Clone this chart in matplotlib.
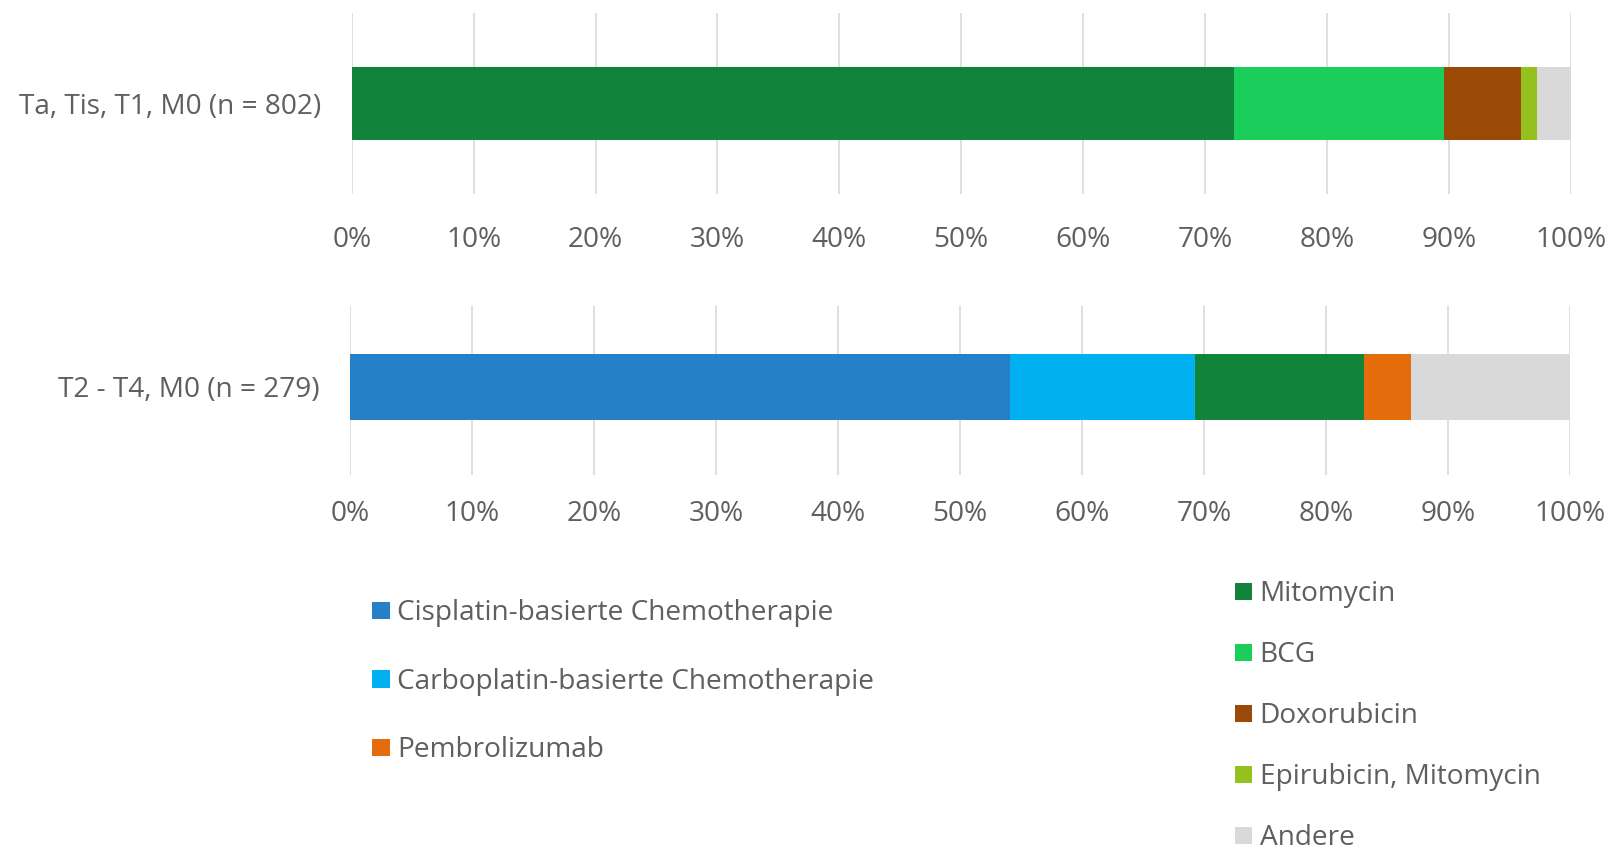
import matplotlib
matplotlib.use("Agg")
import matplotlib.pyplot as plt
from matplotlib.patches import Rectangle

# data (percent of patients)
top_label = "Ta, Tis, T1, M0 (n = 802)"
top_names = ["Mitomycin", "BCG", "Doxorubicin", "Epirubicin, Mitomycin", "Andere"]
top_values = [72.4, 17.2, 6.3, 1.3, 2.8]

bottom_label = "T2 - T4, M0 (n = 279)"
bottom_names = ["Cisplatin-basierte Chemotherapie", "Carboplatin-basierte Chemotherapie",
                "Mitomycin", "Pembrolizumab", "Andere"]
bottom_values = [54.1, 15.2, 13.8, 3.9, 13.0]

x_ticks = [0, 10, 20, 30, 40, 50, 60, 70, 80, 90, 100]

colors = {
    "Mitomycin": "#12833B",
    "BCG": "#1BCE5C",
    "Doxorubicin": "#9A4907",
    "Epirubicin, Mitomycin": "#95C11F",
    "Andere": "#D9D9D9",
    "Cisplatin-basierte Chemotherapie": "#2680C8",
    "Carboplatin-basierte Chemotherapie": "#00B0F0",
    "Pembrolizumab": "#E46C0A",
}

legend_left = ["Cisplatin-basierte Chemotherapie", "Carboplatin-basierte Chemotherapie", "Pembrolizumab"]
legend_right = ["Mitomycin", "BCG", "Doxorubicin", "Epirubicin, Mitomycin", "Andere"]

plt.rcParams["font.family"] = ["Open Sans", "DejaVu Sans"]
text_col = "#5f5f5f"
fs = 20.2

W, H = 1619, 849
fig = plt.figure(figsize=(W / 100, H / 100), dpi=100)


def px_axes(left, top, right, bottom):
    return fig.add_axes([left / W, 1 - bottom / H, (right - left) / W, (bottom - top) / H])


def stacked(ax, label, names, values, bar_h, pad_x):
    left = 0
    for name, val in zip(names, values):
        ax.barh(0, val, left=left, height=bar_h, color=colors[name], zorder=2)
        left += val
    ax.set_xlim(0, 100)
    ax.set_ylim(-0.5, 0.5)
    ax.set_yticks([0])
    ax.set_yticklabels([label])
    ax.set_xticks(x_ticks)
    ax.set_xticklabels([f"{t}%" for t in x_ticks])
    ax.grid(axis="x", color="#D9D9D9", linewidth=1.2, zorder=0)
    for s in ax.spines.values():
        s.set_visible(False)
    ax.tick_params(axis="both", length=0, labelsize=fs, labelcolor=text_col)
    ax.tick_params(axis="y", pad=22)
    ax.tick_params(axis="x", pad=pad_x)


ax1 = px_axes(351.7, 12.7, 1570.7, 194)
stacked(ax1, top_label, top_names, top_values, 0.40, 23)

ax2 = px_axes(350, 305.7, 1570, 475)
stacked(ax2, bottom_label, bottom_names, bottom_values, 0.39, 18)
ax2.set_ylim(-0.52, 0.48)


def legend_column(names, x_marker, y_first, step):
    for i, name in enumerate(names):
        yb = y_first + i * step  # bottom of the square marker, in pixels from top
        fig.add_artist(Rectangle((x_marker / W, 1 - yb / H), 17.5 / W, 17.5 / H,
                                 transform=fig.transFigure, color=colors[name], lw=0))
        fig.text((x_marker + 25) / W, 1 - (yb + 1) / H, name, fontsize=fs,
                 color=text_col, va="baseline", ha="left")


legend_column(legend_left, 372, 619, 68.5)
legend_column(legend_right, 1234.5, 600, 61)

fig.savefig("out.png", dpi=100, facecolor="white")
